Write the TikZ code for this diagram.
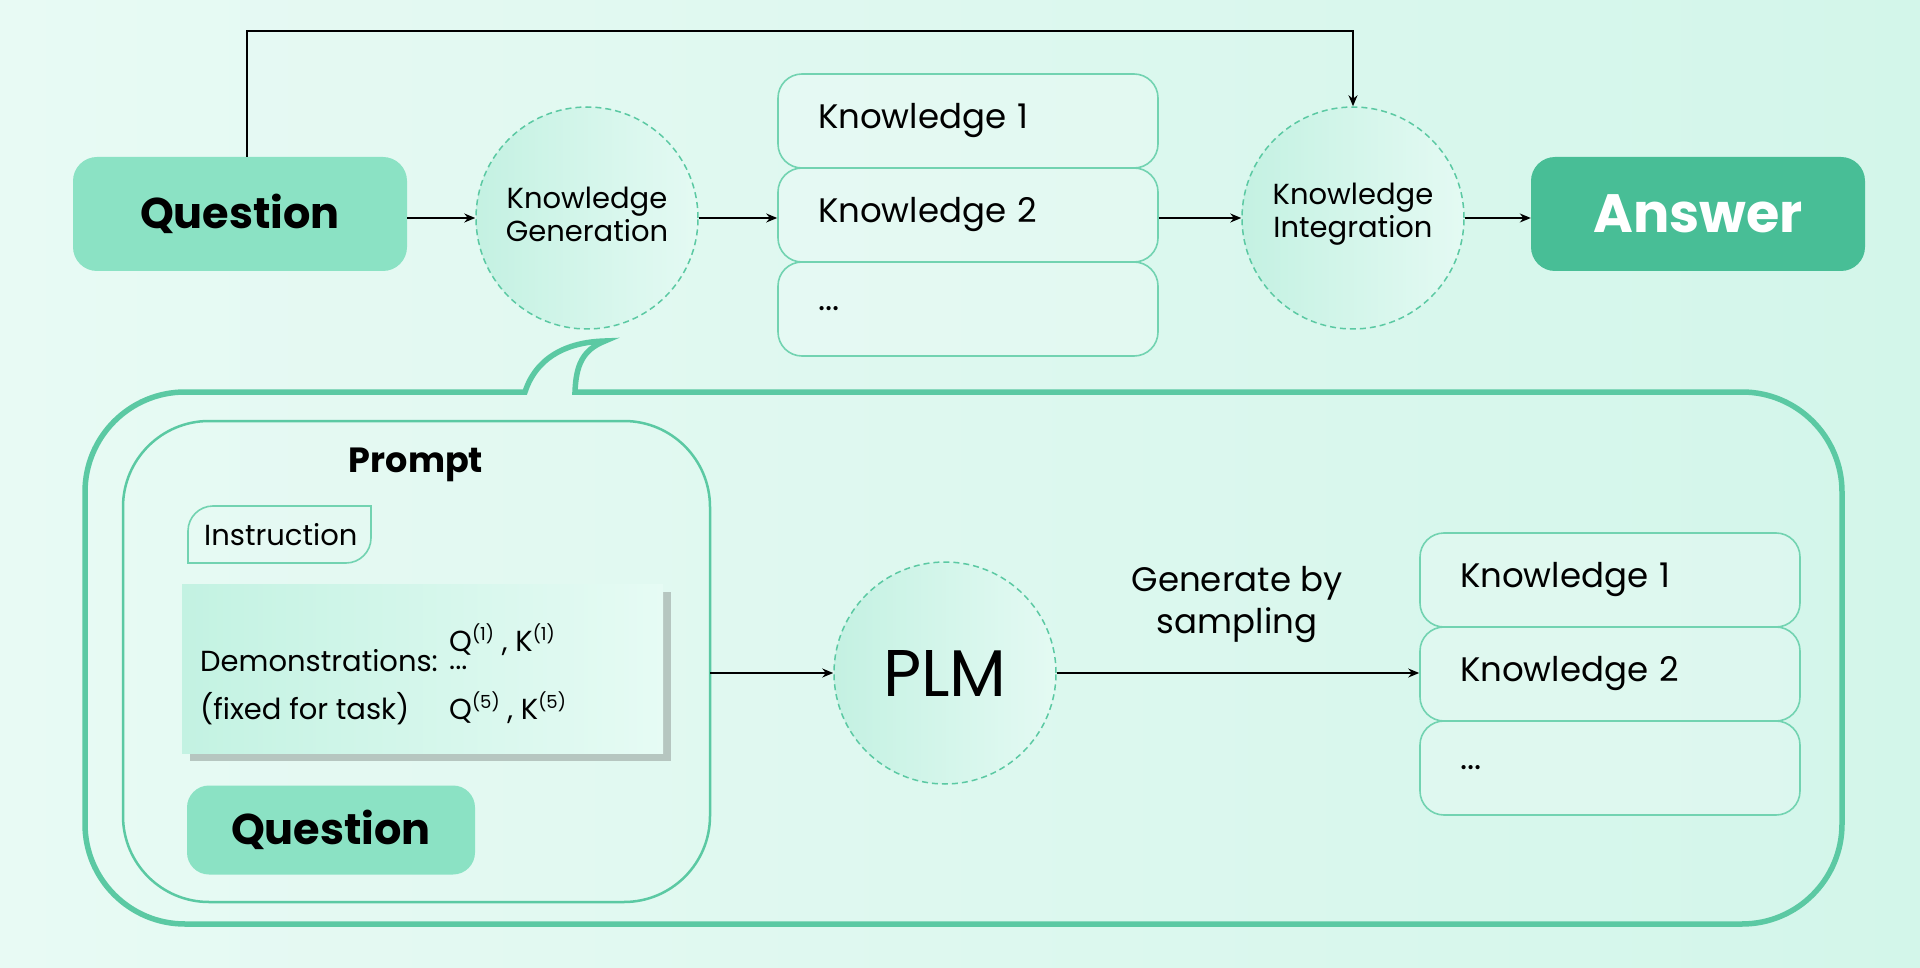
\documentclass[tikz,border=0pt]{standalone}
\usepackage{fontspec}
\setmainfont{Poppins}
\usetikzlibrary{arrows.meta,shapes.geometric}
\definecolor{bgL}{HTML}{E8FAF4}
\definecolor{bgR}{HTML}{D3F6EA}
\definecolor{qfill}{HTML}{8BE2C4}
\definecolor{afill}{HTML}{48BE96}
\definecolor{kline}{HTML}{72D3B1}
\definecolor{gline}{HTML}{5BC9A3}
\definecolor{cL}{HTML}{C4F1E2}
\definecolor{cR}{HTML}{E4FAF3}
\definecolor{dL}{HTML}{C3F2E2}
\definecolor{dR}{HTML}{E6FBF4}
\definecolor{shad}{HTML}{B6C6C0}
\newcommand\sps[1]{\raisebox{11pt}{\fontsize{18}{18}\selectfont(#1)}}
\begin{document}
\begin{tikzpicture}[x=1pt,y=-1pt,
  arr/.style={-{Stealth[length=11pt,width=9pt]}, line width=1.4pt, black},
  qbox/.style={rounded corners=24pt, fill=qfill, minimum width=334pt, minimum height=114pt, inner sep=0pt, font=\fontsize{43}{52}\selectfont\bfseries},
  kbox/.style={draw=kline, line width=1.6pt, rounded corners=24pt, fill=white, fill opacity=0.2, text opacity=1, minimum height=94pt, inner xsep=40pt, inner ysep=0pt, text width=300pt, align=left, font=\fontsize{34}{40}\selectfont},
  circ/.style={circle, minimum size=222pt, inner sep=0pt, draw=gline, line width=1.5pt, dash pattern=on 6pt off 4pt, left color=cL, right color=cR},
  ctext/.style={align=center, inner sep=0pt, font=\fontsize{29}{33}\selectfont},
  dtext/.style={anchor=base west, inner sep=0pt, font=\fontsize{29}{34}\selectfont},
  bubble/.style={draw=gline, line width=5.5pt, line join=miter},
]
\useasboundingbox (0,0) rectangle (1920,968);
\fill[left color=bgL, right color=bgR] (0,0) rectangle (1920,968);

% ---------- top row ----------
\node[qbox] (q1) at (240,214) {Question};
\node[circ] (kg) at (587,218) {};
\node[ctext] (kgt) at ([yshift=4pt]kg.center) {Knowledge\\Generation};
\node[kbox] (k1) at (968,121) {Knowledge 1};
\node[kbox] (k2) at (968,215) {Knowledge 2};
\node[kbox] (k3) at (968,309) {...};
\node[circ] (ki) at (1353,218) {};
\node[ctext] (kit) at ([yshift=4pt]ki.center) {Knowledge\\Integration};
\node[qbox, fill=afill, text=white, font=\fontsize{54}{62}\selectfont\bfseries] (ans) at (1698,214) {Answer};

\draw[arr] (q1.east |- kg.west) -- (kg.west);
\draw[arr] (kg.east) -- (kg.east -| k2.west);
\draw[arr] (k2.east |- ki.west) -- (ki.west);
\draw[arr] (ki.east) -- (ki.east -| ans.west);
\coordinate (tl) at (247,31);
\coordinate (tr) at (ki.north |- tl);
\draw[arr] (q1.north -| tl) -- (tl) -- (tr) -- (ki.north);

% ---------- speech bubble ----------
\draw[bubble] (525,392) -- (185,392)
  arc[start angle=-90, end angle=-180, radius=100] -- (85,824)
  arc[start angle=180, end angle=90, radius=100] -- (1742,924)
  arc[start angle=90, end angle=0, radius=100] -- (1842,492)
  arc[start angle=0, end angle=-90, radius=100] -- (575,392)
  .. controls (576,366) and (582,350) .. (605,341)
  .. controls (566,342) and (536,358) .. (525,392) -- cycle;

% prompt box
\draw[draw=gline, line width=2.5pt, rounded corners=86pt] (123,421) rectangle (710,902);
\node[font=\fontsize{35}{40}\selectfont\bfseries] (prompt) at (416,465) {Prompt};

% instruction
\draw[draw=kline, line width=1.6pt] (188,563) -- (188,531)
  .. controls (188,517.2) and (199.2,506) .. (213,506) -- (371,506) -- (371,538)
  .. controls (371,551.8) and (359.8,563) .. (346,563) -- cycle;
\node[anchor=west, inner sep=0pt, font=\fontsize{29}{34}\selectfont] (instr) at (204,535) {Instruction};

% demonstrations
\fill[shad] (190,592) rectangle (671,761);
\fill[left color=dL, right color=dR] (182,584) rectangle (663,753);
\node[dtext] (demo) at (200,671) {Demonstrations:};
\node[dtext] (fixed) at (200,719) {(fixed for task)};
\node[dtext] (qk1) at (449,651) {Q\sps{1} , K\sps{1}};
\node[dtext] (dots) at (449,669) {...};
\node[dtext] (qk5) at (449,719) {Q\sps{5} , K\sps{5}};

% bottom question
\node[qbox, rounded corners=22pt, minimum width=288pt, minimum height=89pt] (q2) at (331,830) {Question};

% PLM and knowledge
\node[circ] (plm) at (945,673) {};
\node[inner sep=0pt, font=\fontsize{66}{72}\selectfont] (plmt) at (plm.center) {PLM};
\node[kbox] (b1) at (1610,580) {Knowledge 1};
\node[kbox] (b2) at (1610,674) {Knowledge 2};
\node[kbox] (b3) at (1610,768) {...};
\node[align=center, inner sep=0pt, font=\fontsize{34}{42}\selectfont] (gen) at (1237,605) {Generate by\\sampling};

\coordinate (pe) at (710,673);
\draw[arr] (pe) -- (plm.west);
\draw[arr] (plm.east) -- (plm.east -| b2.west);
\end{tikzpicture}
\end{document}
